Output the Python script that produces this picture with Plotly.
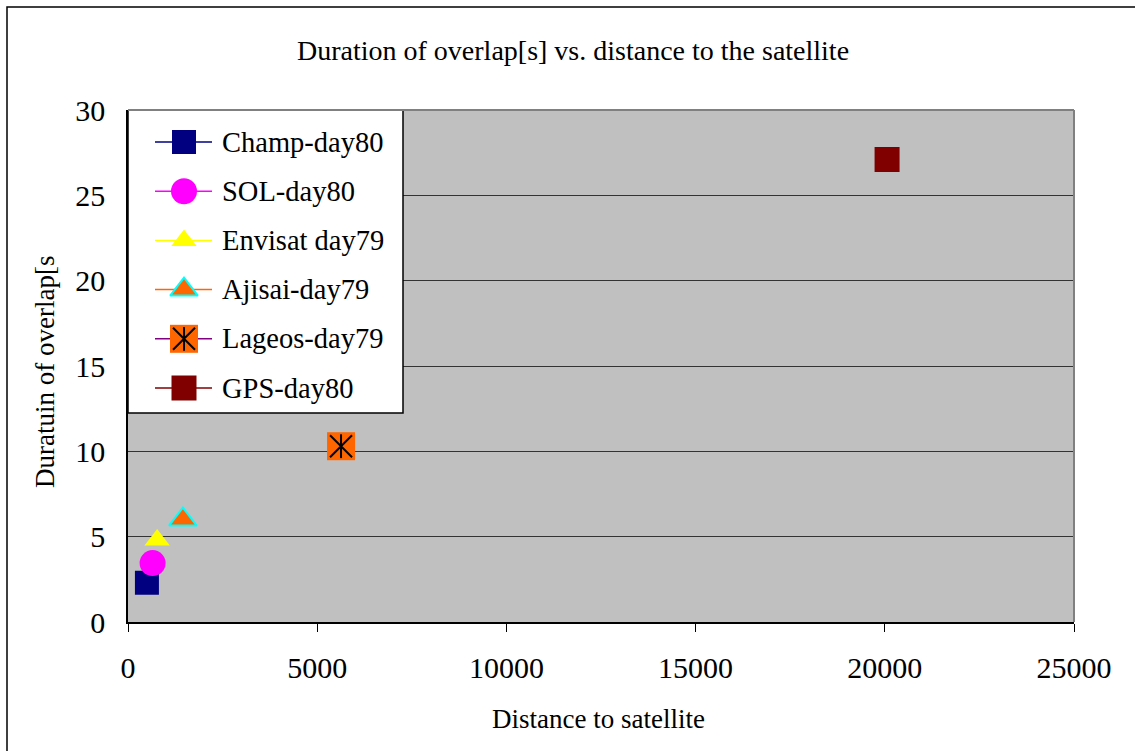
import plotly.graph_objects as go

# ---- data ----
series_names = ["Champ-day80", "SOL-day80", "Envisat day79", "Ajisai-day79", "Lageos-day79", "GPS-day80"]
distance_km = [500, 650, 770, 1450, 5630, 20060]
overlap_s = [2.3, 3.45, 4.8, 6.0, 10.3, 27.1]
x_ticks = [0, 5000, 10000, 15000, 20000, 25000]
y_ticks = [0, 5, 10, 15, 20, 25, 30]

# ---- styles ----
fill_colors = ["#000080", "#FF00FF", "#FFFF00", "#FF6600", "#FF6600", "#800000"]
line_colors = ["#000080", "#FF00FF", "#FFFF00", "#FF6600", "#800080", "#800000"]
symbols = ["square", "circle", "triangle-up", "triangle-up", "square", "square"]
sizes = [24, 26, 22, 24, 28, 25]
outline_colors = [None, None, None, "#00FFFF", None, None]

FONT = "Liberation Serif, Times New Roman, serif"

# pixel geometry of the plot area
L, R, T, B = 128, 1074, 110, 622
W, H = 1135, 751

def px(x):
    return (x - L) / (R - L)

def py(y):
    return (B - y) / (B - T)

fig = go.Figure()

def marker_traces(xs, ys, i, xaxis="x", yaxis="y", with_line=False, lx=None):
    out = []
    if with_line:
        out.append(go.Scatter(x=lx, y=[ys[0], ys[0]], mode="lines",
                              line=dict(color=line_colors[i], width=1.5),
                              xaxis=xaxis, yaxis=yaxis, showlegend=False, hoverinfo="skip"))
    mk = dict(symbol=symbols[i], size=sizes[i], color=fill_colors[i])
    if outline_colors[i]:
        mk["line"] = dict(color=outline_colors[i], width=2)
    else:
        mk["line"] = dict(width=0)
    out.append(go.Scatter(x=xs, y=ys, mode="markers", marker=mk, name=series_names[i],
                          xaxis=xaxis, yaxis=yaxis, showlegend=False))
    if series_names[i].startswith("Lageos"):
        out.append(go.Scatter(x=xs, y=ys, mode="markers",
                              marker=dict(symbol="x-thin-open", size=22, color="black",
                                          line=dict(color="black", width=2)),
                              xaxis=xaxis, yaxis=yaxis, showlegend=False, hoverinfo="skip"))
        out.append(go.Scatter(x=xs, y=ys, mode="markers",
                              marker=dict(symbol="line-ns-open", size=17, color="black",
                                          line=dict(color="black", width=2)),
                              xaxis=xaxis, yaxis=yaxis, showlegend=False, hoverinfo="skip"))
    return out

# data traces
for i in range(len(series_names)):
    for tr in marker_traces([distance_km[i]], [overlap_s[i]], i):
        fig.add_trace(tr)

# custom legend (pixel-based overlay axes)
row_y0, row_dy = 142, 49.2
sym_x, line_x = 184, [155, 212]
annotations = []
for i in range(len(series_names)):
    ry = row_y0 + i * row_dy
    for tr in marker_traces([sym_x], [ry], i, xaxis="x2", yaxis="y2", with_line=True, lx=line_x):
        tr.hoverinfo = "skip"
        fig.add_trace(tr)
    annotations.append(dict(x=px(220), y=py(ry), xref="paper", yref="paper", text=series_names[i],
                            showarrow=False, xanchor="left", yanchor="middle",
                            font=dict(family=FONT, size=28.5, color="black")))

# titles
annotations.append(dict(x=px(573), y=py(50), xref="paper", yref="paper",
                        text="Duration of overlap[s] vs. distance to the satellite",
                        showarrow=False, xanchor="center", yanchor="middle",
                        font=dict(family=FONT, size=28, color="black")))
annotations.append(dict(x=px(598), y=py(719), xref="paper", yref="paper", text="Distance to satellite",
                        showarrow=False, xanchor="center", yanchor="middle",
                        font=dict(family=FONT, size=27, color="black")))
annotations.append(dict(x=px(45), y=py(372), xref="paper", yref="paper", text="Duratuin of overlap[s",
                        showarrow=False, xanchor="center", yanchor="middle", textangle=-90,
                        font=dict(family=FONT, size=27, color="black")))

shapes = [
    # outer chart border (extends past the right and bottom edges)
    dict(type="rect", xref="paper", yref="paper", x0=px(7), y0=py(7), x1=px(1160), y1=py(780),
         line=dict(color="black", width=1.5), layer="below"),
    # legend box (main data coordinates, drawn above gridlines)
    dict(type="rect", xref="x", yref="y",
         x0=0, x1=px(403) * 25000, y0=py(413) * 30, y1=30,
         fillcolor="white", line=dict(color="black", width=1.5), layer="between"),
    # plot-area top and right borders
    dict(type="line", xref="paper", yref="paper", x0=0, y0=1, x1=1, y1=1,
         line=dict(color="#808080", width=2), layer="above"),
    dict(type="line", xref="paper", yref="paper", x0=1, y0=0, x1=1, y1=1,
         line=dict(color="#808080", width=2), layer="above"),
]

fig.update_layout(
    width=W, height=H,
    margin=dict(l=L, r=W - R, t=T, b=H - B),
    paper_bgcolor="white", plot_bgcolor="#C0C0C0",
    showlegend=False,
    font=dict(family=FONT, size=28, color="black"),
    xaxis=dict(range=[0, 25000], tickvals=x_ticks, ticktext=[str(v) for v in x_ticks],
               showgrid=False, zeroline=False, showline=True, linecolor="black", linewidth=1.5,
               ticks="outside", ticklen=8, tickcolor="black", tickwidth=1,
               ticklabelstandoff=10, tickfont=dict(family=FONT, size=30, color="black")),
    yaxis=dict(range=[0, 30], tickvals=y_ticks, ticktext=[str(v) for v in y_ticks],
               showgrid=True, gridcolor="#333333", gridwidth=1, zeroline=False,
               showline=True, linecolor="black", linewidth=1.5, ticks="",
               ticklabelstandoff=15, tickfont=dict(family=FONT, size=30, color="black")),
    xaxis2=dict(range=[L, R], overlaying="x", visible=False, anchor="y2"),
    yaxis2=dict(range=[B, T], overlaying="y", visible=False, anchor="x2"),
    annotations=annotations,
    shapes=shapes,
)

fig.write_html("out.html")
